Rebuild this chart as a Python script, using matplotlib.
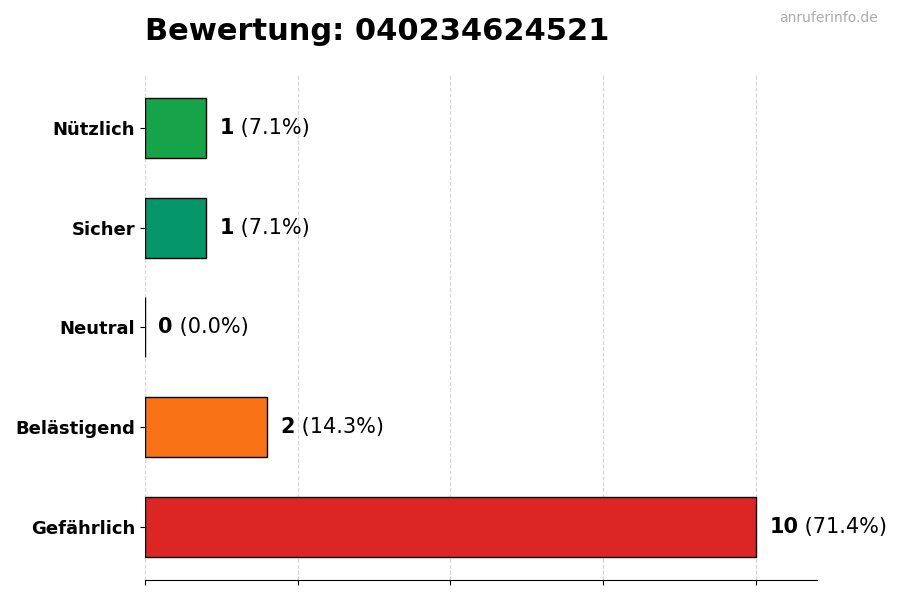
import matplotlib
matplotlib.use("Agg")
import matplotlib.pyplot as plt

categories = ["Gefährlich", "Belästigend", "Neutral", "Sicher", "Nützlich"]
counts = [10, 2, 0, 1, 1]
percents = [71.4, 14.3, 0.0, 7.1, 7.1]
colors = ["#dc2626", "#f97316", "#9ca3af", "#059669", "#16a34a"]
title = "Bewertung: 040234624521"
watermark = "anruferinfo.de"

fig = plt.figure(figsize=(9, 6), dpi=100)
ax = fig.add_axes([0.161, 0.0333, 0.747, 0.842])

ypos = list(range(len(categories)))
ax.barh(ypos, counts, height=0.6, color=colors, edgecolor="black", linewidth=1, zorder=3)
ax.set_yticks(ypos)
ax.set_yticklabels(categories, fontsize=13, fontweight="bold")
ax.set_xlim(0, 11)
ax.set_xticks([0, 2.5, 5, 7.5, 10])
ax.set_xticklabels([])
ax.grid(axis="x", linestyle="--", color="#d5d5d5", linewidth=0.8, zorder=0)
ax.set_axisbelow(True)
for s in ["top", "right", "left"]:
    ax.spines[s].set_visible(False)

for y, c, p in zip(ypos, counts, percents):
    t = ax.annotate(f"{c}", xy=(c, y), xytext=(9.5, 0), textcoords="offset points",
                    va="center", ha="left", fontsize=15, fontweight="bold")
    ax.annotate(f" ({p:.1f}%)", xycoords=t, xy=(1, 0.5), va="center", ha="left", fontsize=15)

fig.text(0.161, 0.947, title, fontsize=22, fontweight="bold", ha="left", va="center")
fig.text(0.975, 0.97, watermark, fontsize=10, color="#aaaaaa", ha="right", va="center")

fig.savefig("out.png", dpi=100)
